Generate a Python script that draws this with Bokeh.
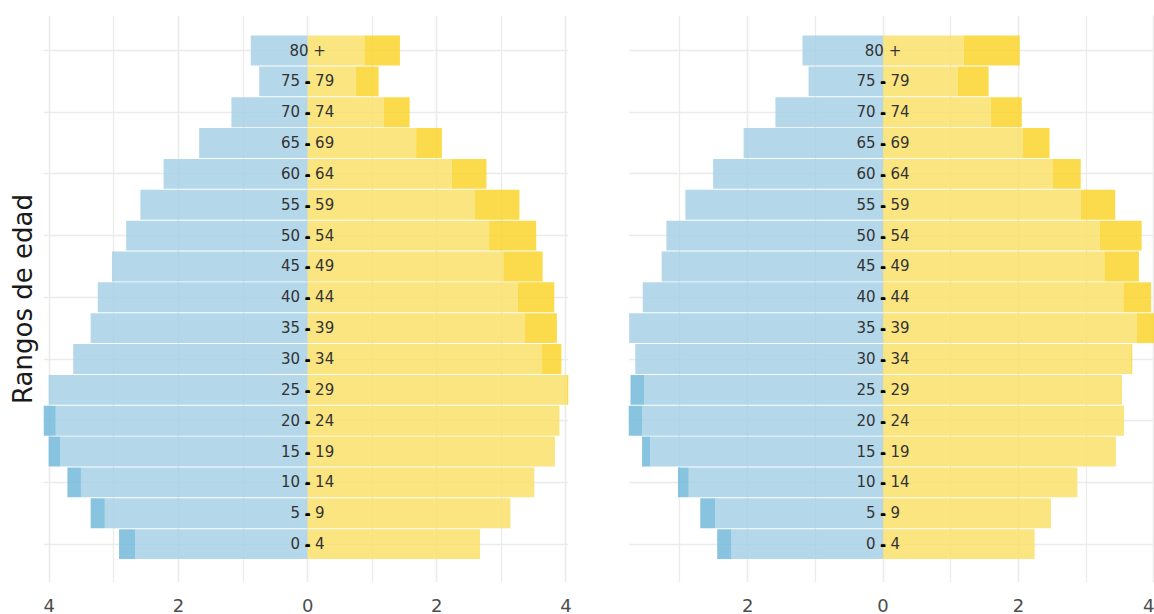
from bokeh.plotting import figure
from bokeh.models import Range1d, FixedTicker, CustomJSTickFormatter, ColumnDataSource
from bokeh.layouts import row
from bokeh.embed import file_html
from bokeh.resources import INLINE
from bokeh.core.properties import value

# ---------------- data ----------------
age_labels = ["0 - 4", "5 - 9", "10 - 14", "15 - 19", "20 - 24", "25 - 29", "30 - 34",
              "35 - 39", "40 - 44", "45 - 49", "50 - 54", "55 - 59", "60 - 64",
              "65 - 69", "70 - 74", "75 - 79", "80 +"]

male_left = [2.92, 3.36, 3.72, 4.01, 4.09, 4.01, 3.63, 3.36, 3.25, 3.03, 2.81, 2.59, 2.23,
             1.68, 1.18, 0.75, 0.88]
female_left = [2.67, 3.14, 3.51, 3.83, 3.90, 4.04, 3.93, 3.86, 3.82, 3.64, 3.54, 3.28, 2.77,
               2.08, 1.58, 1.10, 1.43]

male_right = [2.45, 2.70, 3.03, 3.56, 3.76, 3.73, 3.66, 3.75, 3.55, 3.27, 3.20, 2.92, 2.51,
              2.06, 1.59, 1.10, 1.19]
female_right = [2.24, 2.48, 2.87, 3.44, 3.56, 3.53, 3.68, 4.05, 3.96, 3.78, 3.82, 3.43, 2.92,
                2.46, 2.05, 1.56, 2.02]

x_major_ticks = [-4, -2, 0, 2, 4]
x_minor_ticks = [-3, -1, 1, 3]
y_grid_ticks = [0, 2, 4, 6, 8, 10, 12, 14, 16]
y_title = "Rangos de edad"

# ---------------- style ----------------
BLUE_LIGHT = "#a7d1e6"
BLUE_DARK = "#73badb"
YEL_LIGHT = "#fae06b"
YEL_DARK = "#fad52b"
ALPHA = 0.85
GRID = "#ebebeb"
FONT = "DejaVu Sans"
BAR_H = 0.97


def make_panel(male, female, width, border_left, border_right, x_end, ylabel=None):
    n = len(age_labels)
    idx = list(range(n))
    lo = [min(m, f) for m, f in zip(male, female)]
    src = ColumnDataSource(dict(
        y=idx,
        neg_m=[-v for v in male],
        neg_lo=[-v for v in lo],
        lo=lo,
        female=female,
        label=age_labels,
        dash=["-" if " - " in s else "" for s in age_labels],
    ))
    p = figure(width=width, height=614,
               x_range=Range1d(-max(male), x_end),
               y_range=Range1d(-1.245, 17.135),
               output_backend="svg", toolbar_location=None,
               min_border_left=border_left, min_border_right=border_right,
               min_border_top=15, min_border_bottom=0)
    p.outline_line_color = None
    p.background_fill_color = "white"
    p.border_fill_color = "white"

    # bars: light part = overlap of both sexes, dark part = excess
    p.hbar(y="y", left="neg_lo", right=0, height=BAR_H, source=src,
           fill_color=BLUE_LIGHT, fill_alpha=ALPHA, line_color=None)
    p.hbar(y="y", left="neg_m", right="neg_lo", height=BAR_H, source=src,
           fill_color=BLUE_DARK, fill_alpha=ALPHA, line_color=None)
    p.hbar(y="y", left=0, right="lo", height=BAR_H, source=src,
           fill_color=YEL_LIGHT, fill_alpha=ALPHA, line_color=None)
    p.hbar(y="y", left="lo", right="female", height=BAR_H, source=src,
           fill_color=YEL_DARK, fill_alpha=ALPHA, line_color=None)

    # central age labels
    p.text(x=0, y="y", text="label", source=src, text_align="center",
           text_baseline="middle", text_font=value(FONT), text_font_size="15px",
           text_color="#333333")
    p.text(x=0, y="y", text="dash", source=src, text_align="center",
           text_baseline="middle", text_font=value(FONT), text_font_size="15px",
           text_color="black", text_font_style="bold")

    # axes
    if ylabel:
        p.yaxis.ticker = FixedTicker(ticks=[])
        p.yaxis.axis_line_color = None
        p.yaxis.major_tick_line_color = None
        p.yaxis.minor_tick_line_color = None
        p.yaxis.major_tick_out = 0
        p.yaxis.major_label_standoff = 0
        p.yaxis.axis_label = ylabel
        p.yaxis.axis_label_standoff = 6
        p.yaxis.axis_label_text_font = FONT
        p.yaxis.axis_label_text_font_size = "26px"
        p.yaxis.axis_label_text_font_style = "normal"
        p.yaxis.axis_label_text_color = "#1a1a1a"
    else:
        p.yaxis.visible = False
    p.xaxis.ticker = FixedTicker(ticks=x_major_ticks, minor_ticks=x_minor_ticks)
    p.xaxis.formatter = CustomJSTickFormatter(code="return Math.abs(tick).toString();")
    p.xaxis.axis_line_color = None
    p.xaxis.major_tick_line_color = None
    p.xaxis.minor_tick_line_color = None
    p.xaxis.major_label_standoff = 10
    p.xaxis.major_label_text_font = FONT
    p.xaxis.major_label_text_font_size = "18px"
    p.xaxis.major_label_text_color = "#4d4d4d"

    # grids
    p.xgrid.grid_line_color = GRID
    p.xgrid.grid_line_width = 1.6
    p.xgrid.minor_grid_line_color = GRID
    p.xgrid.minor_grid_line_width = 1.2
    p.ygrid.ticker = FixedTicker(ticks=y_grid_ticks)
    p.ygrid.grid_line_color = GRID
    p.ygrid.grid_line_width = 1.6
    return p


p1 = make_panel(male_left, female_left, 573, 43, 5, max(female_left), ylabel=y_title)
p2 = make_panel(male_right, female_right, 581, 55, 0, 4.01)

layout = row(p1, p2)
open("out.html", "w").write(file_html(layout, INLINE))
